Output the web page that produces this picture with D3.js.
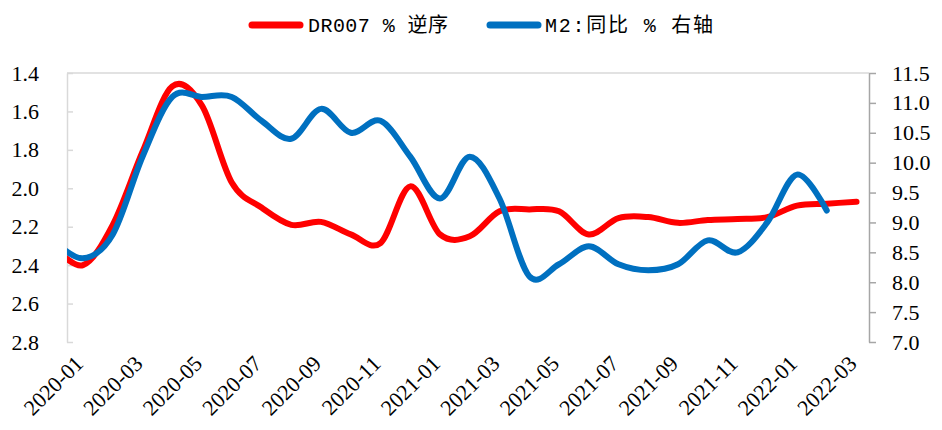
<!DOCTYPE html>
<html>
<head>
<meta charset="utf-8">
<script src="https://cdn.jsdelivr.net/npm/d3@7/dist/d3.min.js"></script>
<style>
  html, body { margin: 0; padding: 0; background: #fff; }
  svg { display: block; }
</style>
</head>
<body>
<svg id="chart" width="942" height="430"></svg>
<script>
// ---- data ----
const months = ["2019-12",
  "2020-01","2020-02","2020-03","2020-04","2020-05","2020-06","2020-07","2020-08","2020-09","2020-10","2020-11","2020-12",
  "2021-01","2021-02","2021-03","2021-04","2021-05","2021-06","2021-07","2021-08","2021-09","2021-10","2021-11","2021-12",
  "2022-01","2022-02","2022-03"];
const dr007 = [2.30,
  2.40, 2.19, 1.81, 1.47, 1.57, 1.97, 2.10, 2.19, 2.175, 2.24, 2.285, 1.99,
  2.24, 2.25, 2.12, 2.11, 2.12, 2.24, 2.155, 2.15, 2.18, 2.165, 2.16, 2.15,
  2.09, 2.08, 2.07];
const m2 = [8.7,
  8.4, 8.8, 10.1, 11.1, 11.1, 11.1, 10.7, 10.4, 10.9, 10.5, 10.7, 10.1,
  9.4, 10.1, 9.4, 8.1, 8.3, 8.6, 8.3, 8.2, 8.3, 8.7, 8.5, 9.0,
  9.8, 9.2, null];
const xTickLabels = ["2020-01","2020-03","2020-05","2020-07","2020-09","2020-11","2021-01","2021-03","2021-05","2021-07","2021-09","2021-11","2022-01","2022-03"];
const leftTicks = [1.4, 1.6, 1.8, 2.0, 2.2, 2.4, 2.6, 2.8];
const rightTicks = [7.0, 7.5, 8.0, 8.5, 9.0, 9.5, 10.0, 10.5, 11.0, 11.5];
const seriesNames = ["DR007 % 逆序", "M2:同比 % 右轴"];
const colors = ["#FF0000", "#0070C0"];

// ---- layout ----
const plotL = 67, plotR = 869, plotT = 73, plotB = 342;
const svg = d3.select("#chart");
const serif = "'Liberation Serif','Times New Roman',serif";

const idx = months.map((m, i) => i - 1); // 2020-01 -> 0
const x = d3.scaleLinear().domain([0, 26]).range([83, 856.5]);
const yL = d3.scaleLinear().domain([1.4, 2.8]).range([plotT, plotB]);
const yR = d3.scaleLinear().domain([7.0, 11.5]).range([plotB, plotT]);

// clip
svg.append("defs").append("clipPath").attr("id", "clip")
  .append("rect").attr("x", plotL).attr("y", 0).attr("width", plotR - plotL).attr("height", 430);

// top category axis line (value axis is reversed)
svg.append("line").attr("x1", plotL).attr("x2", plotR).attr("y1", plotT).attr("y2", plotT)
  .attr("stroke", "#d9d9d9").attr("stroke-width", 1.5);

// left axis
const gL = svg.append("g").attr("transform", `translate(${plotL},0)`)
  .call(d3.axisLeft(yL).tickValues(leftTicks).tickFormat(d3.format(".1f")).tickSize(-6).tickSizeOuter(0).tickPadding(28));
gL.select(".domain").attr("stroke", "#d9d9d9").attr("stroke-width", 1.5);
gL.selectAll(".tick line").attr("stroke", "#d9d9d9").attr("stroke-width", 1.5);
gL.selectAll(".tick text").attr("font-family", serif).attr("font-size", 22).attr("fill", "#000");

// right axis
const gR = svg.append("g").attr("transform", `translate(${plotR},0)`)
  .call(d3.axisRight(yR).tickValues(rightTicks).tickFormat(d3.format(".1f")).tickSize(7).tickSizeOuter(0).tickPadding(16));
gR.select(".domain").attr("stroke", "#a6a6a6").attr("stroke-width", 1.5);
gR.selectAll(".tick line").attr("stroke", "#a6a6a6").attr("stroke-width", 1.5);
gR.selectAll(".tick text").attr("font-family", serif).attr("font-size", 22).attr("fill", "#000");

// x axis labels
const xTickVals = xTickLabels.map(l => months.indexOf(l) - 1);
const gX = svg.append("g").attr("transform", `translate(0,${plotB})`)
  .call(d3.axisBottom(x).tickValues(xTickVals).tickFormat((d, i) => xTickLabels[i]).tickSize(0));
gX.select(".domain").remove();
gX.selectAll(".tick text")
  .attr("font-family", serif).attr("font-size", 22).attr("fill", "#000")
  .attr("text-anchor", "end")
  .attr("dy", null).attr("y", 0)
  .attr("transform", "translate(1,23) rotate(-45)");

// lines
const curve = d3.curveCatmullRom.alpha(0);
const lineL = d3.line().defined(d => d[1] != null).x(d => x(d[0])).y(d => yL(d[1])).curve(curve);
const lineR = d3.line().defined(d => d[1] != null).x(d => x(d[0])).y(d => yR(d[1])).curve(curve);
const gLines = svg.append("g").attr("clip-path", "url(#clip)");
gLines.append("path").datum(idx.map((k, i) => [k, dr007[i]]))
  .attr("d", lineL).attr("fill", "none").attr("stroke", colors[0]).attr("stroke-width", 6).attr("stroke-linecap", "round");
gLines.append("path").datum(idx.map((k, i) => [k, m2[i]]))
  .attr("d", lineR).attr("fill", "none").attr("stroke", colors[1]).attr("stroke-width", 6).attr("stroke-linecap", "round");

// legend
const legend = [
  {name: seriesNames[0], color: colors[0], x1: 252, x2: 300, tx: 308, tl: 140},
  {name: seriesNames[1], color: colors[1], x1: 490, x2: 538, tx: 545, tl: 168}
];
const gLeg = svg.append("g");
legend.forEach(l => {
  gLeg.append("line").attr("x1", l.x1).attr("x2", l.x2).attr("y1", 25).attr("y2", 25)
    .attr("stroke", l.color).attr("stroke-width", 7).attr("stroke-linecap", "round");
  gLeg.append("text").attr("x", l.tx).attr("y", 25).attr("dy", "0.36em")
    .attr("font-family", "'Liberation Mono','Noto Sans CJK SC',monospace").attr("font-size", 20)
    .attr("textLength", l.tl).attr("fill", "#000").text(l.name);
});
</script>
</body>
</html>
